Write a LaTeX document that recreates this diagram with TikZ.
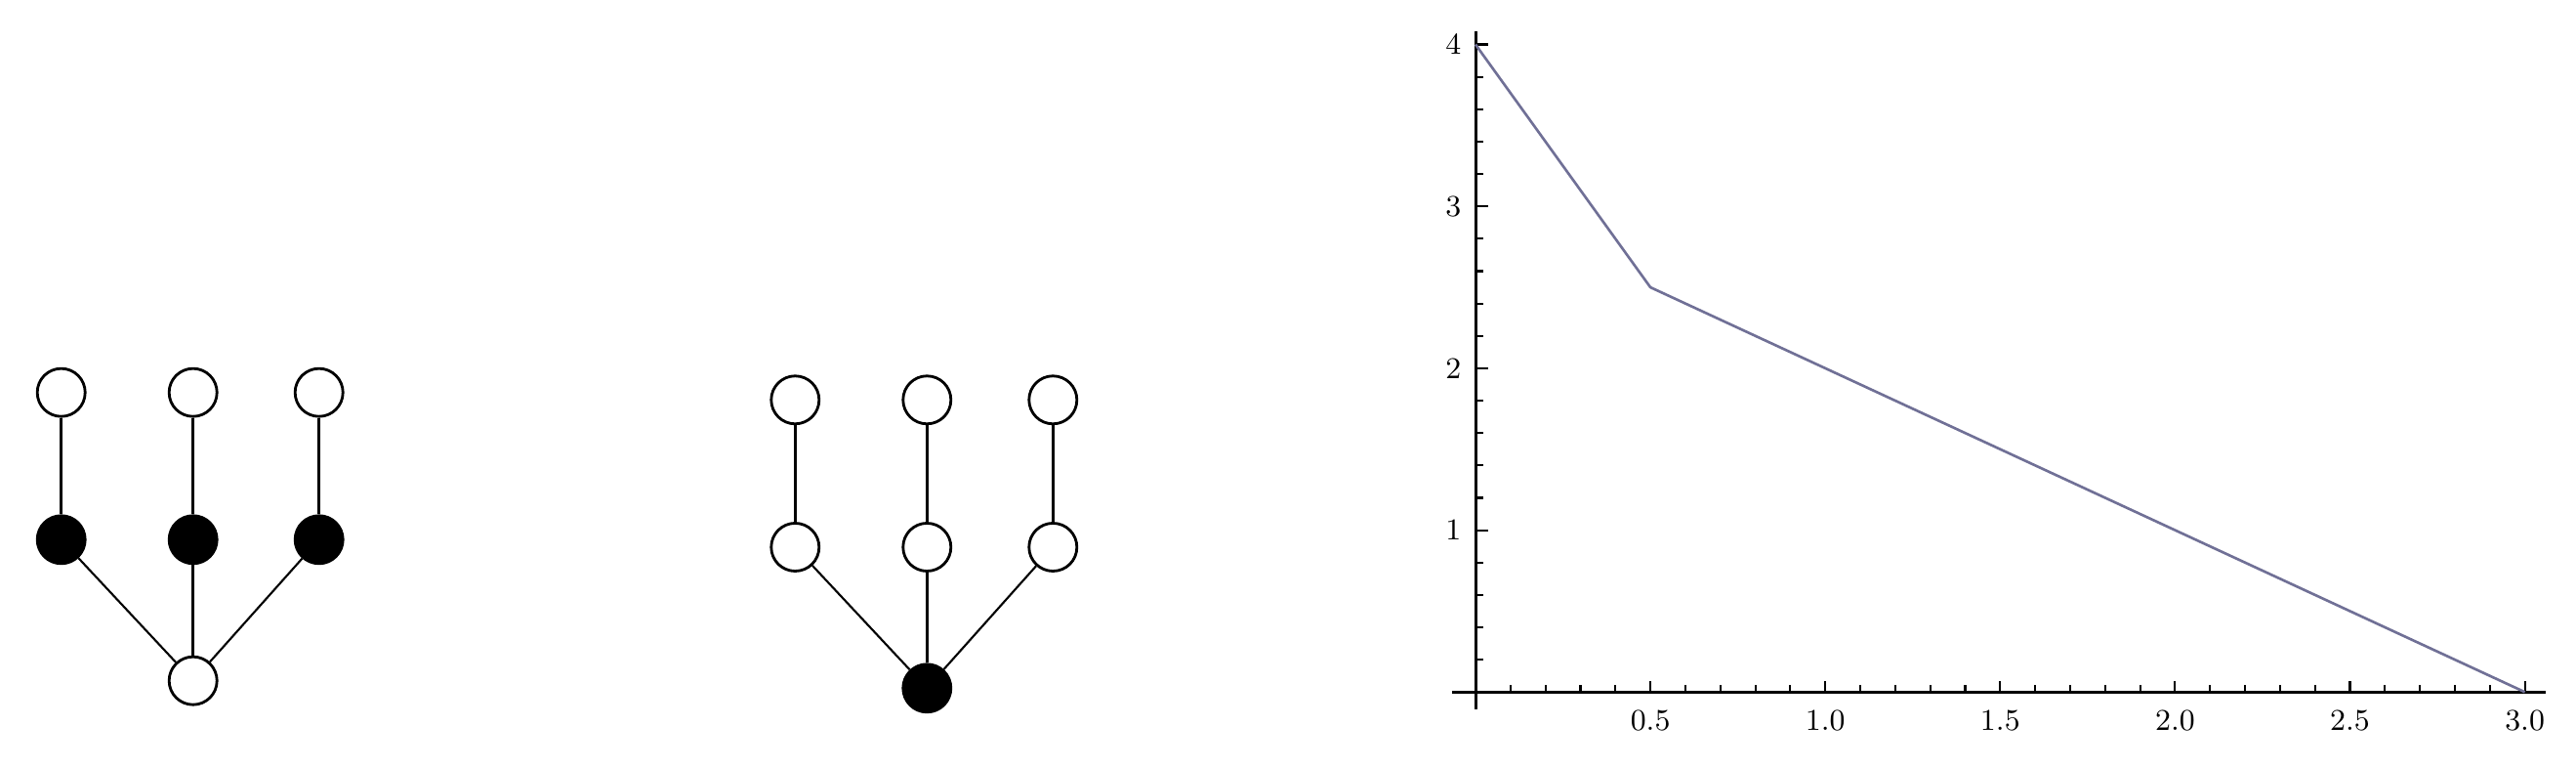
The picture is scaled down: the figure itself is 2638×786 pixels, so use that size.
\documentclass[tikz,border=0pt]{standalone}
\usepackage{tikz}
\definecolor{plotline}{RGB}{112,112,150}
\tikzset{
  vtx/.style={circle, draw=black, line width=0.8pt, minimum size=0.49cm, inner sep=0pt, fill=white},
  vtxf/.style={vtx, fill=black},
  edge/.style={line width=0.85pt, black},
  diag/.style={line width=0.6pt, black},
  axisline/.style={line width=0.85pt, black},
  tickline/.style={line width=0.6pt, black},
  ticklabel/.style={font=\fontsize{8.8}{10}\selectfont, inner sep=0pt},
  curve/.style={line width=0.75pt, plotline, line join=round}
}
\begin{document}
\begin{tikzpicture}[x=0.01cm, y=-0.01cm]
\useasboundingbox (0,0) rectangle (2638,786);
% ---------- Tree 1 ----------
\node[vtx]  (a1) at (62.7,401.7) {};
\node[vtx]  (a2) at (197.7,401.7) {};
\node[vtx]  (a3) at (326.7,401.7) {};
\node[vtxf] (b1) at (62.7,552.3) {};
\node[vtxf] (b2) at (197.7,552.3) {};
\node[vtxf] (b3) at (326.7,552.3) {};
\node[vtx]  (r1) at (197.7,696.7) {};
\draw[edge] (a1) -- (b1);
\draw[edge] (a2) -- (b2);
\draw[edge] (a3) -- (b3);
\draw[diag] (b1) -- (r1);
\draw[edge] (b2) -- (r1);
\draw[diag] (b3) -- (r1);
% ---------- Tree 2 ----------
\node[vtx]  (c1) at (814.3,409.3) {};
\node[vtx]  (c2) at (949.3,409.3) {};
\node[vtx]  (c3) at (1078.3,409.3) {};
\node[vtx]  (d1) at (814.3,560) {};
\node[vtx]  (d2) at (949.3,560) {};
\node[vtx]  (d3) at (1078.3,560) {};
\node[vtxf] (r2) at (949.3,704.3) {};
\draw[edge] (c1) -- (d1);
\draw[edge] (c2) -- (d2);
\draw[edge] (c3) -- (d3);
\draw[diag] (d1) -- (r2);
\draw[edge] (d2) -- (r2);
\draw[diag] (d3) -- (r2);
% ---------- Plot ----------
\begin{scope}[shift={(1511,708.3)}, x=3.58cm, y=1.656cm]
  % axes
  \draw[axisline] (-0.067,0) -- (3.06,0);
  \draw[axisline] (0,-0.107) -- (0,4.08);
  % x ticks
  \foreach \t in {0.1,0.2,0.3,0.4,0.6,0.7,0.8,0.9,1.1,1.2,1.3,1.4,1.6,1.7,1.8,1.9,2.1,2.2,2.3,2.4,2.6,2.7,2.8,2.9}
    \draw[tickline] (\t,0) -- ++(0,0.07cm);
  \foreach \t in {0.5,1.0,1.5,2.0,2.5,3.0}
    \draw[tickline] (\t,0) -- ++(0,0.11cm);
  \foreach \t in {0.5,1.0,1.5,2.0,2.5,3.0}
    \node[ticklabel] (xl\t) at ([yshift=-0.29cm]\t,0) {\t};
  % y ticks
  \foreach \t in {0.2,0.4,0.6,0.8,1.2,1.4,1.6,1.8,2.2,2.4,2.6,2.8,3.2,3.4,3.6,3.8}
    \draw[tickline] (0,\t) -- ++(0.08cm,0);
  \foreach \t in {1,2,3,4}
    \draw[tickline] (0,\t) -- ++(0.13cm,0);
  \foreach \t in {1,2,3,4}
    \node[ticklabel, anchor=east] (yl\t) at ([xshift=-0.14cm]0,\t) {\t};
  % curve
  \coordinate (p0) at (0,4);
  \coordinate (p1) at (0.5,2.5);
  \coordinate (p2) at (3,0);
  \draw[curve] (p0) -- (p1) -- (p2);
\end{scope}
\end{tikzpicture}
\end{document}
